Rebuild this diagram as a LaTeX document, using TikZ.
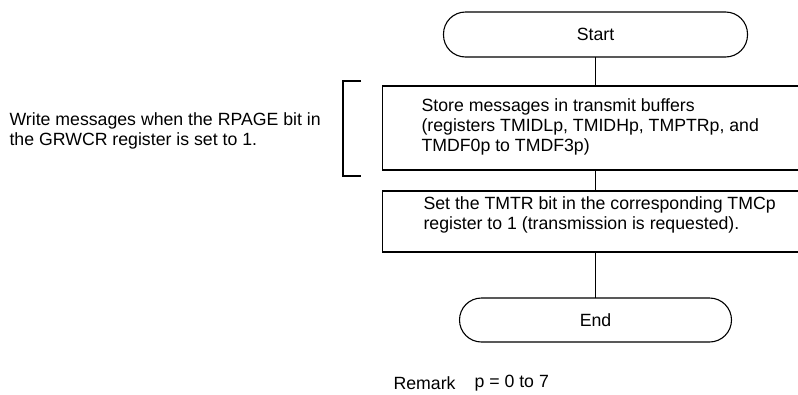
\documentclass[tikz,border=0pt]{standalone}
\usepackage{fontspec}
\setmainfont{Liberation Sans}
\begin{document}
\begin{tikzpicture}[x=1pt,y=-1pt,line width=1.1pt,
  txt/.style={font=\fontsize{17.7}{20}\selectfont, inner sep=0pt, align=left, anchor=west},
  term/.style={draw, rounded corners=22pt, inner sep=0pt, outer sep=0pt, font=\fontsize{17.7}{20}\selectfont},
  proc/.style={draw, inner sep=0pt, outer sep=0pt, minimum width=426pt}]
\useasboundingbox (0,0) rectangle (798,394);
\node[term, minimum width=304pt, minimum height=45pt] (start) at (595.5,34.5) {Start};
\node[proc, minimum height=84pt] (box1) at (595.5,128) {};
\node[proc, minimum height=61pt] (box2) at (595.5,221.5) {};
\node[term, minimum width=272pt, minimum height=44pt] (end) at (595.5,320) {End};
\node[txt] (t1) at (421,127) {Store messages in transmit buffers\\(registers TMIDLp, TMIDHp, TMPTRp, and\\TMDF0p to TMDF3p)};
\node[txt] (t2) at (423,215) {Set the TMTR bit in the corresponding TMCp\\register to 1 (transmission is requested).};
\node[txt] (note) at (9,131) {Write messages when the RPAGE bit in\\the GRWCR register is set to 1.};
\node[txt] (rem) at (393,383) {Remark};
\node[txt] (remp) at (474,383) {p = 0 to 7};
\coordinate (b1) at (361,81);
\coordinate (b2) at (343,81);
\coordinate (b3) at (343,176);
\coordinate (b4) at (361,176);
\draw (b1) -- (b2) -- (b3) -- (b4);
\draw (start) -- (box1);
\draw (box1) -- (box2);
\draw (box2) -- (end);
\end{tikzpicture}
\end{document}
